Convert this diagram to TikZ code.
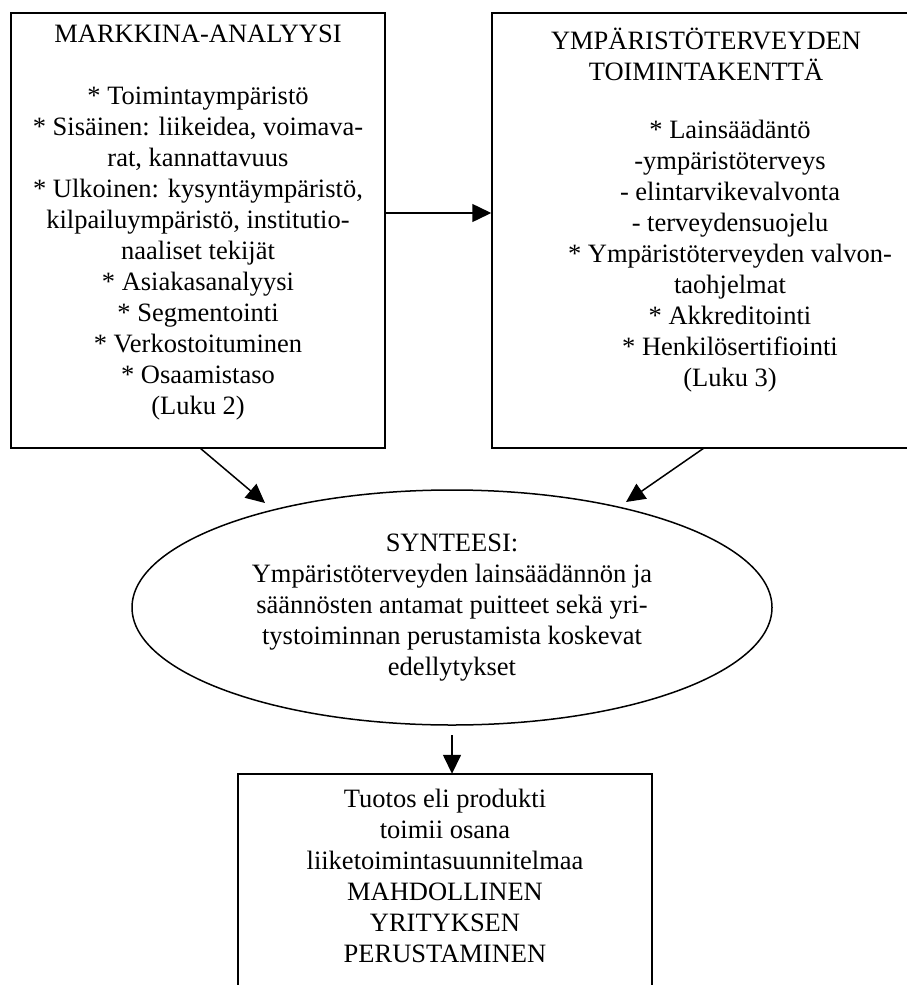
\documentclass[tikz,border=0pt]{standalone}
\usepackage{fontspec}
\setmainfont{Liberation Serif}
\usetikzlibrary{arrows.meta,shapes.geometric}
\tikzset{
  box/.style={draw, line width=1.5pt, rectangle, inner sep=0pt},
  txt/.style={align=center, inner sep=0pt, font=\fontsize{26.5}{31}\selectfont},
  arr/.style={line width=1.5pt, -{Triangle[length=19pt,width=18pt]}},
}
\begin{document}
\begin{tikzpicture}[x=1pt,y=1pt]
\useasboundingbox (0,0) rectangle (907,-985);
% left box
\node[box, minimum width=374pt, minimum height=435pt] (ma) at (198,-230.5) {};
\node[txt] (matxt) at (198,-223) {MARKKINA-ANALYYSI\\[31pt]
* Toimintaympäristö\\
* Sisäinen: liikeidea, voimava-\\
rat, kannattavuus\\
* Ulkoinen: kysyntäympäristö,\\
kilpailuympäristö, institutio-\\
naaliset tekijät\\
* Asiakasanalyysi\\
* Segmentointi\\
* Verkostoituminen\\
* Osaamistaso\\
(Luku 2)};
% right box (right side cut off)
\node[box, minimum width=433pt, minimum height=435pt] (ym) at (708.5,-230.5) {};
\node[txt] (ymtitle) at (706,-54) {YMPÄRISTÖTERVEYDEN\\TOIMINTAKENTTÄ};
\node[txt] (ymtxt) at (730,-256) {* Lainsäädäntö\\
-ympäristöterveys\\
- elintarvikevalvonta\\
- terveydensuojelu\\
* Ympäristöterveyden valvon-\\
taohjelmat\\
* Akkreditointi\\
* Henkilösertifiointi\\
(Luku 3)};
% ellipse
\node[ellipse, draw, line width=1.5pt, minimum width=640pt, minimum height=235pt, inner sep=0pt] (syn) at (452,-607.5) {};
\node[txt] (syntxt) at (452,-608) {SYNTEESI:\\
Ympäristöterveyden lainsäädännön ja\\
säännösten antamat puitteet sekä yri-\\
tystoiminnan perustamista koskevat\\
edellytykset};
% bottom box (open at the bottom)
\node[inner sep=0pt, minimum width=414pt, minimum height=221pt] (tu) at (445,-884.5) {};
\draw[line width=1.5pt] (tu.south west) -- (tu.north west) -- (tu.north east) -- (tu.south east);
\node[txt] (tutxt) at (445,-876) {Tuotos eli produkti\\
toimii osana\\
liiketoimintasuunnitelmaa\\
MAHDOLLINEN\\
YRITYKSEN\\
PERUSTAMINEN};
% connectors
\draw[arr] (ma.east |- 0,-213) -- (ym.west |- 0,-213);
\coordinate (la) at (200,-448);
\coordinate (lt) at (265,-503);
\coordinate (ra) at (704,-448);
\coordinate (rt) at (626,-502);
\draw[arr] (la) -- (lt);
\draw[arr] (ra) -- (rt);
\coordinate (da) at (452,-735);
\draw[arr] (da) -- (tu.north -| da);
\end{tikzpicture}
\end{document}
